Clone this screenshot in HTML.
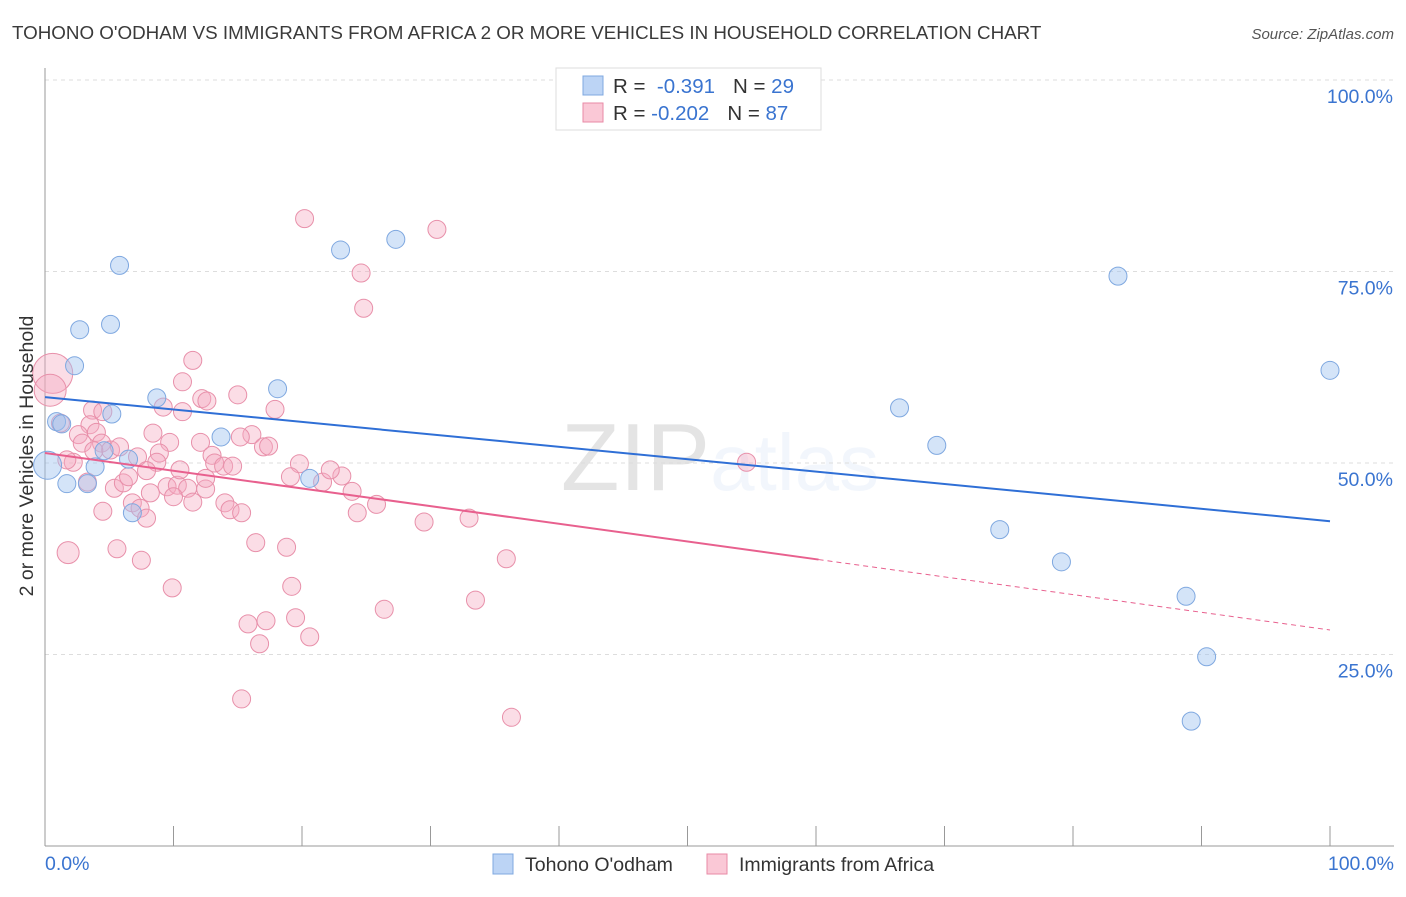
<!DOCTYPE html>
<html><head><meta charset="utf-8"><style>
body{margin:0;background:#fff;font-family:"Liberation Sans",sans-serif}
svg text{font-family:"Liberation Sans",sans-serif}
</style></head><body>
<svg width="1406" height="892" xmlns="http://www.w3.org/2000/svg" id="chart">
<text x="12" y="39" font-size="18.8" fill="#3a3a3a">TOHONO O'ODHAM VS IMMIGRANTS FROM AFRICA 2 OR MORE VEHICLES IN HOUSEHOLD CORRELATION CHART</text>
<text x="1394" y="39" font-size="15" fill="#555" text-anchor="end" font-style="italic">Source: ZipAtlas.com</text>
<text x="720" y="490" font-size="96" text-anchor="middle" fill="#000" opacity="0.1" font-family="Liberation Serif,serif">ZIP<tspan fill="#3a7bd5" opacity="0.6" font-family="Liberation Sans,sans-serif" font-size="80">atlas</tspan></text>
<g id="grid"></g>
<g id="axes"></g>
<g id="pts"></g>
<g id="lines"></g>
<text transform="translate(33,456) rotate(-90)" font-size="19.5" fill="#333" text-anchor="middle">2 or more Vehicles in Household</text>
<g>
<rect x="556" y="68" width="265" height="62" fill="#fff" stroke="#ddd"/>
<rect x="583" y="76" width="20" height="19" fill="#bcd4f5" stroke="#7fa8e0"/>
<rect x="583" y="103" width="20" height="19" fill="#fac8d6" stroke="#e88aa6"/>
<text x="613" y="93" font-size="20.5" fill="#333">R = <tspan fill="#3a74d0">&#160;-0.391</tspan><tspan dx="18" fill="#333">N = </tspan><tspan fill="#3a74d0">29</tspan></text>
<text x="613" y="120" font-size="20.5" fill="#333">R = <tspan fill="#3a74d0">-0.202</tspan><tspan dx="18" fill="#333">N = </tspan><tspan fill="#3a74d0">87</tspan></text>
</g>
<g>
<rect x="493" y="854" width="20" height="20" fill="#bcd4f5" stroke="#7fa8e0"/>
<text x="525" y="871" font-size="19.5" fill="#333">Tohono O'odham</text>
<rect x="707" y="854" width="20" height="20" fill="#fac8d6" stroke="#e88aa6"/>
<text x="739" y="871" font-size="19.5" fill="#333">Immigrants from Africa</text>
</g>
</svg>
<script>
const yTicks=[25,50,75,100];
const yTickLabels=["25.0%","50.0%","75.0%","100.0%"];
const xEndLabels=["0.0%","100.0%"];
const blueX=[0.2,0.9,1.3,1.7,2.3,2.7,3.3,3.9,5.1,5.2,5.8,6.5,6.8,8.7,13.7,18.1,20.6,23.0,27.3,66.5,69.4,74.3,79.1,83.5,88.8,90.4,89.2,100,4.6];
const blueY=[49.7,55.4,55.1,47.3,62.7,67.4,47.3,49.5,68.1,56.4,75.8,50.5,43.5,58.5,53.4,59.7,48.0,77.8,79.2,57.2,52.3,41.3,37.1,74.4,32.6,24.7,16.3,62.1,51.6];
const pinkX=[0.6,0.4,11.5,10.7,12.2,12.6,15.0,17.9,9.2,10.7,3.7,1.2,3.5,4.0,2.6,2.9,4.4,5.1,8.4,9.7,12.1,8.9,7.2,8.7,13.0,13.2,13.9,14.6,16.1,17.0,17.4,19.8,21.6,2.2,1.7,3.3,5.4,6.1,6.5,8.2,9.5,10.3,11.1,12.5,11.5,14.0,14.4,15.3,6.8,7.4,7.9,4.5,1.8,5.6,7.5,16.4,18.8,20.2,30.5,24.6,24.8,23.1,23.9,24.3,25.8,29.5,33.0,35.9,26.4,33.5,36.3,54.6,19.2,19.5,20.6,17.2,15.8,16.7,15.3,9.9,15.2,10.0,3.8,5.8,7.9,19.1,22.2,10.5,12.5,4.5];
const pinkY=[61.7,59.5,63.4,60.6,58.4,58.1,58.9,57.0,57.3,56.7,56.9,55.2,55.0,54.0,53.7,52.6,52.6,51.7,53.9,52.7,52.7,51.3,50.8,50.1,51.0,50.0,49.6,49.6,53.7,52.1,52.2,49.9,47.5,50.1,50.4,47.5,46.7,47.4,48.2,46.1,46.9,47.1,46.7,46.6,44.9,44.8,43.9,43.5,44.8,44.1,42.8,43.7,38.3,38.8,37.3,39.6,39.0,81.9,80.5,74.8,70.2,48.3,46.3,43.5,44.6,42.3,42.8,37.5,30.9,32.1,16.8,50.1,33.9,29.8,27.3,29.4,29.0,26.4,19.2,33.7,53.4,45.6,51.6,52.1,49.0,48.2,49.1,49.1,48.0,56.7];
const blueBig=[0];
const pinkBig=[0,1,52];
const blueTrend=[58.6,42.4];
const pinkTrend=[51.3,28.2];
const pinkSolidEnd=60.2;

const NS="http://www.w3.org/2000/svg";
const X=v=>45+v*12.85, Y=v=>846-v*7.66;
function mk(tag,attrs,parent){const e=document.createElementNS(NS,tag);for(const k in attrs)e.setAttribute(k,attrs[k]);parent.appendChild(e);return e;}
const grid=document.getElementById('grid'),axes=document.getElementById('axes'),pts=document.getElementById('pts'),lines=document.getElementById('lines');
yTicks.forEach((t,i)=>{
 const l=mk('line',{x1:45,x2:1394,y1:Y(t),y2:Y(t),stroke:'#ddd','stroke-dasharray':'4,4'},grid);
 
 
 const tx=mk('text',{x:1393,y:Y(t)+23,'font-size':19.5,fill:'#3a74d0','text-anchor':'end'},axes);
 tx.textContent=yTickLabels[i];
 
 
});
const ya=mk('line',{x1:45,x2:45,y1:68,y2:846,stroke:'#999'},axes);


const xa=mk('line',{x1:45,x2:1394,y1:846,y2:846,stroke:'#999'},axes);


for(let i=0;i<=10;i++){
 const t=mk('line',{x1:X(i*10),x2:X(i*10),y1:826,y2:846,stroke:'#999'},axes);
 
 
}
[[0,'start',45],[100,'end',1394]].forEach((d,i)=>{
 const t=mk('text',{x:d[2],y:870,'font-size':19.5,fill:'#3a74d0','text-anchor':d[1]},axes);
 t.textContent=xEndLabels[i];
 
 
});
pinkX.forEach((x,i)=>{
 const r=pinkBig.includes(i)?(i===0?20:i===1?16:11):9;
 const c=mk('circle',{cx:X(x),cy:Y(pinkY[i]),r:r,fill:'rgba(246,170,192,0.4)',stroke:'#e890aa','stroke-width':1},pts);
 
 
});
blueX.forEach((x,i)=>{
 const r=blueBig.includes(i)?14:9;
 const c=mk('circle',{cx:X(x),cy:Y(blueY[i]),r:r,fill:'rgba(160,196,240,0.45)',stroke:'#7fa8e0','stroke-width':1},pts);
 
 
});
const bl=mk('line',{x1:X(0),y1:Y(blueTrend[0]),x2:X(100),y2:Y(blueTrend[1]),stroke:'#2f6fd6','stroke-width':2},lines);


const py=x=>pinkTrend[0]+(pinkTrend[1]-pinkTrend[0])*x/100;
const pl=mk('line',{x1:X(0),y1:Y(py(0)),x2:X(pinkSolidEnd),y2:Y(py(pinkSolidEnd)),stroke:'#e8608e','stroke-width':2},lines);


const pd=mk('line',{x1:X(pinkSolidEnd),y1:Y(py(pinkSolidEnd)),x2:X(100),y2:Y(py(100)),stroke:'#e8608e','stroke-width':1,'stroke-dasharray':'5,4'},lines);


</script>
</body></html>
